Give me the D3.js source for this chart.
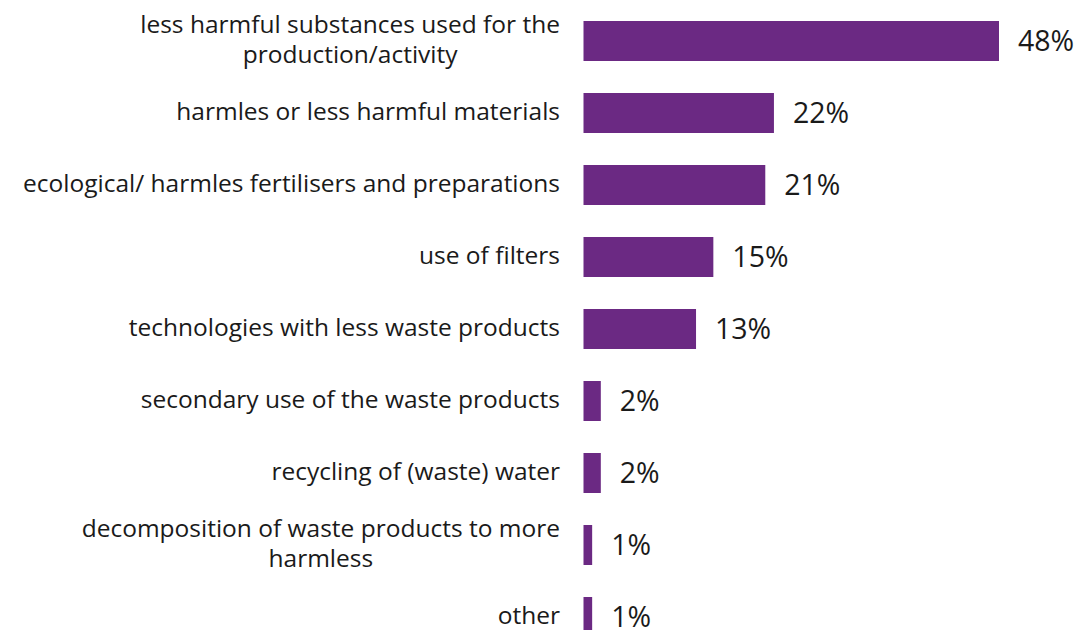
<!DOCTYPE html>
<html>
<head>
<meta charset="utf-8">
<script src="https://cdn.jsdelivr.net/npm/d3@7"></script>
<style>
  html, body { margin: 0; padding: 0; background: #fff; overflow: hidden; }
  svg { display: block; }
  text { font-family: "Open Sans", "Noto Sans", sans-serif; fill: #1a1a1a; }
</style>
</head>
<body>
<svg id="chart" width="1083" height="630"></svg>
<script>
const categories = [
  "less harmful substances used for the production/activity",
  "harmles or less harmful materials",
  "ecological/ harmles fertilisers and preparations",
  "use of filters",
  "technologies with less waste products",
  "secondary use of the waste products",
  "recycling of (waste) water",
  "decomposition of waste products to more harmless",
  "other"
];
const labelLines = [
  ["less harmful substances used for the", "production/activity"],
  ["harmles or less harmful materials"],
  ["ecological/ harmles fertilisers and preparations"],
  ["use of filters"],
  ["technologies with less waste products"],
  ["secondary use of the waste products"],
  ["recycling of (waste) water"],
  ["decomposition of waste products to more", "harmless"],
  ["other"]
];
const values = [48, 22, 21, 15, 13, 2, 2, 1, 1];
const valueLabels = ["48%", "22%", "21%", "15%", "13%", "2%", "2%", "1%", "1%"];

const svg = d3.select("#chart");
const x = d3.scaleLinear().domain([0, 48]).range([583.5, 999]);
const y = d3.scaleBand().domain(categories).range([21, 637]).paddingInner(32 / 72).paddingOuter(0);

svg.selectAll("rect.bar")
  .data(categories)
  .join("rect")
  .attr("class", "bar")
  .attr("x", x(0))
  .attr("y", d => y(d))
  .attr("width", (d, i) => x(values[i]) - x(0))
  .attr("height", y.bandwidth())
  .attr("fill", "#6b2983");

svg.selectAll("text.val")
  .data(categories)
  .join("text")
  .attr("class", "val")
  .attr("x", (d, i) => x(values[i]) + 19)
  .attr("y", d => y(d) + y.bandwidth() / 2 + 10)
  .attr("font-size", 28.5)
  .text((d, i) => valueLabels[i]);

const lineH = 30;
const lab = svg.selectAll("text.cat")
  .data(categories)
  .join("text")
  .attr("class", "cat")
  .attr("font-size", 24.5)
  .attr("text-anchor", "middle");

lab.each(function(d, i) {
  const lines = labelLines[i];
  const t = d3.select(this);
  const base = y(d) + y.bandwidth() / 2 + 6.5 - (lines.length - 1) * lineH / 2;
  lines.forEach((ln, j) => {
    t.append("tspan").attr("y", base + j * lineH).text(ln);
  });
});
lab.each(function() {
  const tsp = d3.select(this).selectAll("tspan").nodes();
  const maxW = d3.max(tsp.map(n => n.getComputedTextLength()));
  const cx = 560 - maxW / 2;
  tsp.forEach(n => d3.select(n).attr("x", cx));
});
</script>
</body>
</html>
